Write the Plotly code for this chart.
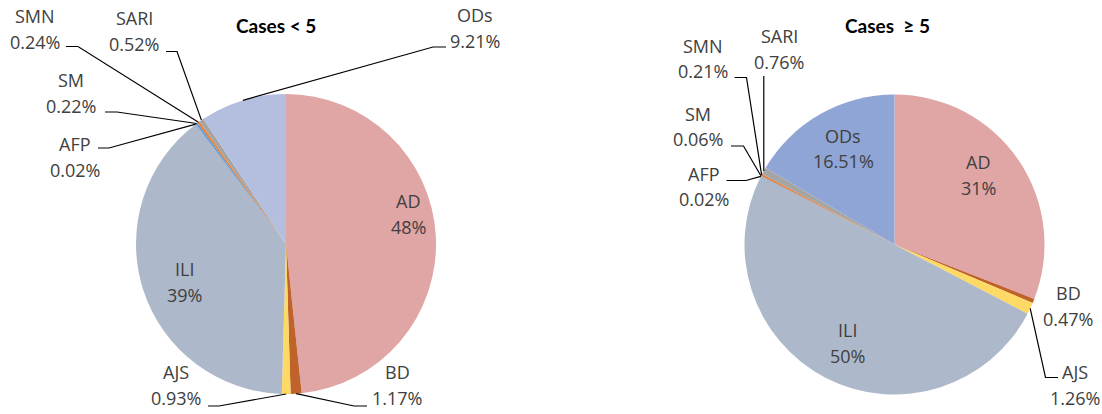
import math
import plotly.graph_objects as go

W, H = 1102, 414

categories = ["AD", "BD", "AJS", "ILI", "AFP", "SM", "SMN", "SARI", "ODs"]
left_values = [48, 1.17, 0.93, 39, 0.02, 0.22, 0.24, 0.52, 9.21]
left_labels = ["48%", "1.17%", "0.93%", "39%", "0.02%", "0.22%", "0.24%", "0.52%", "9.21%"]
right_values = [31, 0.47, 1.26, 50, 0.02, 0.06, 0.21, 0.76, 16.51]
right_labels = ["31%", "0.47%", "1.26%", "50%", "0.02%", "0.06%", "0.21%", "0.76%", "16.51%"]
titles = ["Cases < 5", "Cases  \u2265 5"]

left_colors = ["#E0A5A5", "#C0632A", "#FFD966", "#ADB9CA", "#4472C4", "#5B9BD5", "#ED7D31", "#A5A5A5", "#B4BFE0"]
right_colors = ["#E0A5A5", "#C0632A", "#FFD966", "#ADB9CA", "#4472C4", "#5B9BD5", "#ED7D31", "#A5A5A5", "#8FA5D5"]

R = 150
centers = [(286, 244), (894.5, 244.5)]

def px(x, y):
    return x / W, 1 - y / H

fig = go.Figure()
for (cx, cy), vals, cols in zip(centers, [left_values, right_values], [left_colors, right_colors]):
    x0, y1 = px(cx - R, cy - R)
    x1, y0 = px(cx + R, cy + R)
    fig.add_trace(go.Pie(
        labels=categories, values=vals, sort=False, direction="clockwise", rotation=0,
        marker=dict(colors=cols, line=dict(width=0)),
        textinfo="none", domain=dict(x=[x0, x1], y=[y0, y1]), showlegend=False,
        hovertemplate="%{label}: %{value}<extra></extra>",
    ))

FONT = "Open Sans"
TC = "#404040"
annotations = []
shapes = []

def add_text(x, y, txt, size=18, bold=False):
    ax, ay = px(x, y)
    annotations.append(dict(x=ax, y=ay, xref="paper", yref="paper", text=("<b>%s</b>" % txt) if bold else txt,
                            showarrow=False, xanchor="center", yanchor="middle",
                            font=dict(family="Lato" if bold else FONT, size=size,
                                      color="#000000" if bold else TC)))

def add_pair(x, y, name, val, gap=25.5):
    add_text(x, y, name)
    add_text(x, y + gap, val)

def edge_point(idx, vals, center):
    total = sum(vals)
    cum = sum(vals[:idx]) + vals[idx] / 2
    ang = 2 * math.pi * cum / total
    cx, cy = center
    return cx + R * math.sin(ang), cy - R * math.cos(ang)

def leader(pts):
    path = ""
    for i, (x, y) in enumerate(pts):
        ax, ay = px(x, y)
        path += ("M" if i == 0 else "L") + " %.5f %.5f " % (ax, ay)
    shapes.append(dict(type="path", path=path, xref="paper", yref="paper",
                       line=dict(color="#000000", width=1.2)))

# titles
add_text(276, 25, titles[0], size=19, bold=True)
add_text(887, 25, titles[1], size=19, bold=True)

# ---- left pie
add_pair(408, 201, categories[0], left_labels[0])
add_pair(184, 269, categories[3], left_labels[3])
left_out = [
    (1, 397, 372, (367, 406), (354, 406)),
    (2, 176, 372, (208, 406), (219, 406)),
    (4, 75, 144, (98, 148), (109, 148)),
    (5, 71, 80, (105, 112), (117, 112)),
    (6, 35, 16, (66, 46.5), (78, 46.5)),
    (7, 134, 18.5, (166, 51.5), (177, 51.5)),
    (8, 475, 15.5, (446, 47), (433, 47)),
]
for idx, tx, ty, e0, e1 in left_out:
    add_pair(tx, ty, categories[idx], left_labels[idx])
    leader([e0, e1, edge_point(idx, left_values, centers[0])])

# ---- right pie
add_pair(978, 162, categories[0], right_labels[0])
add_pair(847, 330, categories[3], right_labels[3])
add_pair(843, 136, categories[8], right_labels[8])
add_pair(1068, 293, categories[1], right_labels[1])
right_out = [
    (2, 1075, 372, (1058, 377.5), (1045.5, 377.5)),
    (4, 704, 173.5, (726.5, 180.5), (746, 180.5)),
    (5, 698, 114, (731, 146), (743.5, 146)),
    (6, 703, 45.5, (734.5, 77.5), (746.5, 77.5)),
]
for idx, tx, ty, e0, e1 in right_out:
    add_pair(tx, ty, categories[idx], right_labels[idx])
    leader([e0, e1, edge_point(idx, right_values, centers[1])])
add_pair(779, 36, categories[7], right_labels[7])
ex, ey = edge_point(7, right_values, centers[1])
leader([(ex, 76), (ex, ey)])

fig.update_layout(
    width=W, height=H, margin=dict(l=0, r=0, t=0, b=0),
    paper_bgcolor="white", plot_bgcolor="white",
    annotations=annotations, shapes=shapes,
)
fig.write_html("out.html", config={"displayModeBar": False},
               post_script="document.body.style.margin='0';document.body.style.overflow='hidden';")
